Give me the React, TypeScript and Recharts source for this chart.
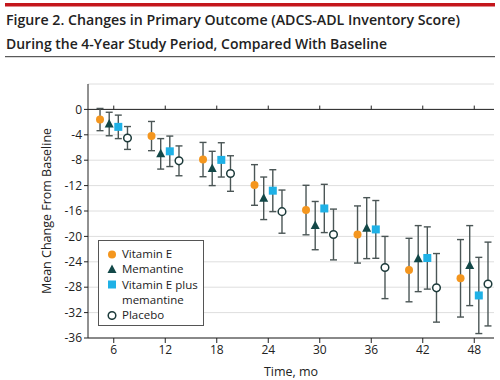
import {
  CartesianGrid,
  ErrorBar,
  ReferenceLine,
  Scatter,
  ScatterChart,
  XAxis,
  YAxis,
} from "recharts";

// months of follow-up
const months = [6, 12, 18, 24, 30, 36, 42, 48];

// mean change from baseline (ADCS-ADL) and half-width of the 95% CI
const vitaminE = [-1.6, -4.2, -7.9, -11.9, -15.85, -19.7, -25.3, -26.6];
const vitaminEErr = [1.75, 2.3, 2.7, 3.2, 3.9, 4.5, 5.0, 6.1];
const memantine = [-2.3, -7.0, -9.3, -14.0, -18.3, -18.7, -23.5, -24.6];
const memantineErr = [1.85, 2.4, 2.7, 3.35, 3.8, 4.8, 5.2, 6.3];
const combo = [-2.75, -6.6, -7.95, -12.8, -15.6, -18.9, -23.4, -29.3];
const comboErr = [1.85, 2.4, 2.7, 3.3, 3.8, 4.55, 4.9, 6.0];
const placebo = [-4.5, -8.1, -10.1, -16.1, -19.7, -24.9, -28.1, -27.5];
const placeboErr = [1.8, 2.35, 2.8, 3.4, 4.0, 4.9, 5.4, 6.6];

const yTicks = [0, -4, -8, -12, -16, -20, -24, -28, -32, -36];

// horizontal dodge (in months) so the 4 groups sit side by side
const DODGE = [-1.6, -0.53, 0.53, 1.6];
const ERR_COLOR = "#4b5656";
const FONT = "'Open Sans', sans-serif";

type ShapeProps = { cx?: number; cy?: number };

const Dot = (color: string) => (p: ShapeProps) =>
  <circle cx={p.cx} cy={p.cy} r={4} fill={color} />;
const Tri = (color: string) => (p: ShapeProps) => {
  const x = p.cx ?? 0;
  const y = p.cy ?? 0;
  return (
    <polygon
      points={`${x},${y - 5} ${x - 4.5},${y + 3.5} ${x + 4.5},${y + 3.5}`}
      fill={color}
    />
  );
};
const Sq = (color: string) => (p: ShapeProps) =>
  <rect x={(p.cx ?? 0) - 4} y={(p.cy ?? 0) - 4} width={8} height={8} fill={color} />;
const Ring = (color: string) => (p: ShapeProps) =>
  <circle cx={p.cx} cy={p.cy} r={3.8} fill="#fff" stroke={color} strokeWidth={1.5} />;

const series = [
  { name: "Vitamin E", values: vitaminE, errors: vitaminEErr, color: "#f4961e", make: Dot },
  { name: "Memantine", values: memantine, errors: memantineErr, color: "#134848", make: Tri },
  { name: "Vitamin E plus memantine", values: combo, errors: comboErr, color: "#1fb1e6", make: Sq },
  { name: "Placebo", values: placebo, errors: placeboErr, color: "#1d3b3b", make: Ring },
];

const rows = (values: number[], errors: number[], offset: number) =>
  months.map((m, i) => ({ x: m + offset, y: values[i], err: errors[i] }));

const LegendMarker = ({ idx }: { idx: number }) => {
  const s = series[idx];
  return (
    <svg width={10} height={10} style={{ display: "block" }}>
      {s.make(s.color)({ cx: 5, cy: 5.5 })}
    </svg>
  );
};

export default function App() {
  return (
    <div
      style={{
        position: "absolute",
        left: 0,
        top: 0,
        width: 500,
        height: 380,
        background: "#fff",
        fontFamily: FONT,
      }}
    >
      <div style={{ position: "absolute", left: 0, top: 0 }}>
        <ScatterChart
          width={500}
          height={380}
          margin={{ top: 84, right: 6, left: 0, bottom: 12 }}
        >
          <CartesianGrid vertical={false} stroke="#dedede" />
          <XAxis
            type="number"
            dataKey="x"
            domain={[3, 50.3]}
            ticks={months}
            height={30}
            tickSize={5}
            stroke="#222"
            tick={{ fill: "#222", fontSize: 12, fontFamily: FONT }}
            label={{
              value: "Time, mo",
              position: "insideBottom",
              offset: -8,
              fill: "#222",
              fontSize: 12.5,
              fontFamily: FONT,
            }}
          />
          <YAxis
            type="number"
            dataKey="y"
            domain={[-36, 4]}
            ticks={yTicks}
            width={88}
            tickSize={4}
            stroke="#222"
            tick={{ fill: "#222", fontSize: 12, fontFamily: FONT }}
            label={{
              value: "Mean Change From Baseline",
              angle: -90,
              position: "center",
              dx: 3,
              dy: 0,
              fill: "#222",
              fontSize: 12.5,
              fontFamily: FONT,
            }}
          />
          <ReferenceLine y={0} stroke="#222" strokeWidth={1} />
          {months.map((m) => (
            <ReferenceLine
              key={m}
              segment={[
                { x: m, y: 0 },
                { x: m, y: 0.6 },
              ]}
              stroke="#222"
            />
          ))}
          {series.map((s, i) => (
            <Scatter
              key={s.name}
              name={s.name}
              data={rows(s.values, s.errors, DODGE[i])}
              shape={s.make(s.color)}
              isAnimationActive={false}
            >
              <ErrorBar
                dataKey="err"
                direction="y"
                width={3.5}
                stroke={ERR_COLOR}
                strokeWidth={1.4}
              />
            </Scatter>
          ))}
        </ScatterChart>
      </div>

      <svg
        width={500}
        height={60}
        style={{ position: "absolute", left: 0, top: 0 }}
      >
        <rect x={5} y={3} width={490} height={3.5} fill="#c4161c" />
        <text
          x={6}
          y={25}
          fontSize={15}
          fontWeight={600}
          fill="#222"
          fontFamily={FONT}
          textLength={454}
          lengthAdjust="spacingAndGlyphs"
        >
          Figure 2. Changes in Primary Outcome (ADCS-ADL Inventory Score)
        </text>
        <text
          x={6}
          y={49}
          fontSize={15}
          fontWeight={600}
          fill="#222"
          fontFamily={FONT}
          textLength={381}
          lengthAdjust="spacingAndGlyphs"
        >
          During the 4-Year Study Period, Compared With Baseline
        </text>
        <line x1={5} x2={495} y1={56.7} y2={56.7} stroke="#333" strokeWidth={1} />
      </svg>

      <div
        style={{
          position: "absolute",
          left: 98,
          top: 240,
          width: 106,
          height: 86,
          border: "1px solid #555",
          background: "#fff",
          padding: "5px 0 0 8px",
          boxSizing: "border-box",
          fontSize: 11.5,
          lineHeight: "15.3px",
          color: "#222",
        }}
      >
        {series.map((s, i) => (
          <div key={s.name} style={{ display: "flex", alignItems: "flex-start" }}>
            <div style={{ width: 15, paddingTop: 2.5 }}>
              <LegendMarker idx={i} />
            </div>
            <div style={{ width: 80 }}>
              {s.name === "Vitamin E plus memantine" ? (
                <>
                  Vitamin E plus
                  <br />
                  memantine
                </>
              ) : (
                s.name
              )}
            </div>
          </div>
        ))}
      </div>
    </div>
  );
}
